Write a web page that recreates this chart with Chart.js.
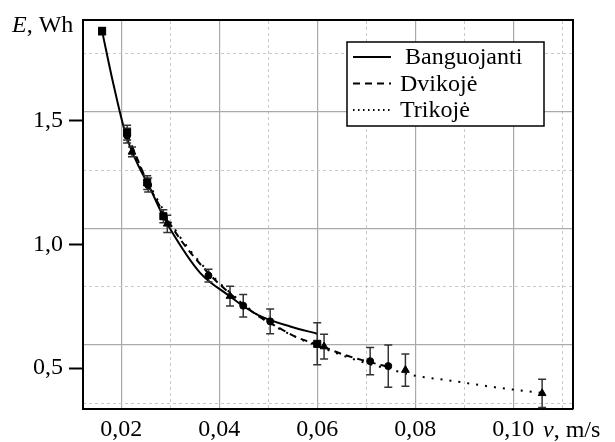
<!DOCTYPE html>
<html lang="lt">
<head>
<meta charset="utf-8">
<title>E(v)</title>
<script src="https://cdn.jsdelivr.net/npm/chart.js@4.4.1/dist/chart.umd.min.js"></script>
<style>
  html, body { margin: 0; padding: 0; background: #fff; }
  #wrap { width: 615px; height: 442px; }
</style>
</head>
<body>
<div id="wrap"><canvas id="grafikas"></canvas></div>
<script>
// ašių ribos ir žymės
const xMin = 0.0122, xMax = 0.1122;
const yMin = 0.3346, yMax = 1.9055;
const xTicks = [0.02, 0.04, 0.06, 0.08, 0.10];
const yTicks = [0.5, 1.0, 1.5];
// tinklelis (originale nesutampa su y žymėmis)
const xGridDash = [0.03, 0.05, 0.07, 0.09, 0.11];
const yGridMin = 0.38, yGridMax = 1.7133;
const yGridSolid = [0.6, 1.0, 1.4];
const yGridDash = [0.4, 0.8, 1.2, 1.6];

// Banguojanti – matavimai
const bangV = [0.0161, 0.0212, 0.0253, 0.0286, 0.0600];
const bangE = [1.862, 1.452, 1.250, 1.114, 0.598];
const bangErr = [0.015, 0.030, 0.028, 0.026, 0.085];
// Banguojanti – kreivė
const bangFitV = [0.0161, 0.0181, 0.0210, 0.0266, 0.0283, 0.0300, 0.0361, 0.0422, 0.0448, 0.0484, 0.0545, 0.0600];
const bangFitE = [1.862, 1.675, 1.440, 1.197, 1.125, 1.062, 0.885, 0.790, 0.752, 0.710, 0.668, 0.639];

// Dvikojė – matavimai
const dviV = [0.0212, 0.0255, 0.0378, 0.0449, 0.0504, 0.0708, 0.0745];
const dviE = [1.440, 1.240, 0.874, 0.752, 0.689, 0.528, 0.508];
const dviErr = [0.030, 0.028, 0.026, 0.045, 0.050, 0.055, 0.085];
// Dvikojė – kreivė
const dviFitV = [0.0212, 0.0255, 0.0290, 0.0320, 0.0365, 0.0400, 0.0440, 0.0480, 0.0520, 0.0560, 0.0600, 0.0650, 0.0700, 0.0745];
const dviFitE = [1.445, 1.245, 1.115, 1.022, 0.912, 0.840, 0.772, 0.710, 0.665, 0.623, 0.596, 0.557, 0.528, 0.505];

// Trikojė – matavimai
const triV = [0.0222, 0.0294, 0.0422, 0.0614, 0.0780, 0.1059];
const triE = [1.374, 1.083, 0.791, 0.587, 0.492, 0.398];
const triErr = [0.020, 0.035, 0.040, 0.050, 0.065, 0.057];
// Trikojė – kreivė
const triFitV = [0.0222, 0.0255, 0.0290, 0.0320, 0.0365, 0.0400, 0.0440, 0.0480, 0.0520, 0.0560, 0.0600, 0.0650, 0.0700, 0.0750, 0.0800, 0.0850, 0.0900, 0.0950, 0.1000, 0.1059];
const triFitE = [1.380, 1.250, 1.125, 1.030, 0.918, 0.845, 0.775, 0.712, 0.662, 0.622, 0.590, 0.552, 0.520, 0.494, 0.469, 0.455, 0.441, 0.426, 0.413, 0.400];

const serif = '"Liberation Serif", "Times New Roman", serif';

function taskai(v, e) {
  return v.map((x, i) => ({ x: x, y: e[i] }));
}

// paklaidų atkarpos: apačia, viršus, tarpas
function paklaidos(v, e, err) {
  const d = [];
  v.forEach((x, i) => {
    d.push({ x: x, y: e[i] - err[i] }, { x: x, y: e[i] + err[i] }, { x: x, y: null });
  });
  return d;
}

function kreive(label, v, e, dash, width) {
  return {
    label: label,
    data: taskai(v, e),
    showLine: true,
    borderColor: '#000',
    borderWidth: width,
    borderDash: dash,
    pointRadius: 0,
    cubicInterpolationMode: 'monotone'
  };
}

function zymekliai(v, e, style, r) {
  return {
    data: taskai(v, e),
    showLine: false,
    pointStyle: style,
    pointRadius: r,
    pointBackgroundColor: '#000',
    pointBorderColor: '#000',
    pointBorderWidth: 1
  };
}

function klaidos(v, e, err) {
  return {
    data: paklaidos(v, e, err),
    showLine: true,
    spanGaps: false,
    borderColor: '#333',
    borderWidth: 1.5,
    pointStyle: 'line',
    pointRadius: 4,
    pointBorderColor: '#333',
    pointBorderWidth: 1.5
  };
}

const fitBang = kreive('Banguojanti', bangFitV, bangFitE, [], 2);
const fitDvi = kreive('Dvikojė', dviFitV, dviFitE, [7, 5], 2);
const fitTri = kreive('Trikojė', triFitV, triFitE, [2, 7], 2);

// legenda ir ašių pavadinimai
const papildomai = {
  id: 'papildomai',
  afterDraw(chart) {
    const c = chart.ctx;
    c.save();
    c.fillStyle = '#000';
    c.textBaseline = 'alphabetic';
    c.font = 'italic 24px ' + serif;
    c.fillText('E', 12, 32);
    let w = c.measureText('E').width;
    c.font = '24px ' + serif;
    c.fillText(', Wh', 12 + w, 32);

    c.font = 'italic 24px ' + serif;
    c.fillText('v', 543, 437);
    w = c.measureText('v').width;
    c.font = '24px ' + serif;
    c.fillText(', m/s', 543 + w, 437);

    // legendos rėmelis
    c.fillStyle = '#fff';
    c.fillRect(347, 42, 197, 84);
    c.strokeStyle = '#000';
    c.lineWidth = 1.5;
    c.strokeRect(347, 42, 197, 84);
    const eil = [[fitBang, []], [fitDvi, [7, 5]], [fitTri, [1.5, 3.5]]];
    c.textBaseline = 'middle';
    c.fillStyle = '#000';
    eil.forEach((p, i) => {
      const y = 57 + i * 26.5;
      c.setLineDash(p[1]);
      c.lineWidth = 2;
      c.beginPath();
      c.moveTo(353, y);
      c.lineTo(391, y);
      c.stroke();
      c.setLineDash([]);
      c.fillText(p[0].label, i === 0 ? 405 : 400, y + 1);
    });
    c.restore();
  }
};

const ctx = document.getElementById('grafikas').getContext('2d');
new Chart(ctx, {
  type: 'scatter',
  data: {
    datasets: [
      zymekliai(bangV, bangE, 'rect', 5),
      zymekliai(dviV, dviE, 'circle', 3.5),
      zymekliai(triV, triE, 'triangle', 4.5),
      klaidos(bangV, bangE, bangErr),
      klaidos(dviV, dviE, dviErr),
      klaidos(triV, triE, triErr),
      fitBang,
      fitDvi,
      fitTri
    ]
  },
  options: {
    responsive: true,
    maintainAspectRatio: false,
    animation: false,
    layout: { padding: 0 },
    plugins: {
      legend: { display: false },
      tooltip: { enabled: false }
    },
    scales: {
      x: {
        type: 'linear',
        position: 'bottom',
        min: xMin,
        max: xMax,
        afterBuildTicks: s => { s.ticks = xTicks.map(v => ({ value: v })); },
        afterFit: s => { s.height = 33; },
        ticks: {
          callback: v => v.toFixed(2).replace('.', ','),
          font: { family: serif, size: 24 },
          color: '#000',
          padding: 6,
          maxRotation: 0,
          autoSkip: false
        },
        grid: { color: '#aaaaaa', lineWidth: 1.2, drawTicks: false },
        border: { color: '#000', width: 2 }
      },
      xg: {
        type: 'linear',
        position: 'top',
        min: xMin,
        max: xMax,
        afterBuildTicks: s => { s.ticks = xGridDash.map(v => ({ value: v })); },
        afterFit: s => { s.height = 10; },
        ticks: { display: false },
        grid: { color: '#c8c8c8', lineWidth: 1, drawTicks: false },
        border: { color: '#000', width: 2, dash: [3, 3] }
      },
      y: {
        type: 'linear',
        position: 'left',
        min: yMin,
        max: yMax,
        afterBuildTicks: s => { s.ticks = yTicks.map(v => ({ value: v })); },
        afterFit: s => { s.width = 83; },
        ticks: {
          callback: v => v.toFixed(1).replace('.', ','),
          font: { family: serif, size: 24 },
          color: '#000',
          padding: 6
        },
        grid: { drawOnChartArea: false, drawTicks: true, tickLength: 14, tickColor: '#000', tickWidth: 2 },
        border: { color: '#000', width: 2 }
      },
      yg: {
        type: 'linear',
        position: 'right',
        min: yGridMin,
        max: yGridMax,
        afterBuildTicks: s => { s.ticks = yGridSolid.map(v => ({ value: v })); },
        afterFit: s => { s.width = 42; },
        ticks: { display: false },
        grid: { color: '#aaaaaa', lineWidth: 1.2, drawTicks: false },
        border: { color: '#000', width: 2 }
      },
      yg2: {
        type: 'linear',
        position: 'right',
        min: yGridMin,
        max: yGridMax,
        afterBuildTicks: s => { s.ticks = yGridDash.map(v => ({ value: v })); },
        afterFit: s => { s.width = 0; },
        ticks: { display: false },
        grid: { color: '#c8c8c8', lineWidth: 1, drawTicks: false },
        border: { display: false, dash: [3, 3] }
      }
    }
  },
  plugins: [papildomai]
});
</script>
</body>
</html>
